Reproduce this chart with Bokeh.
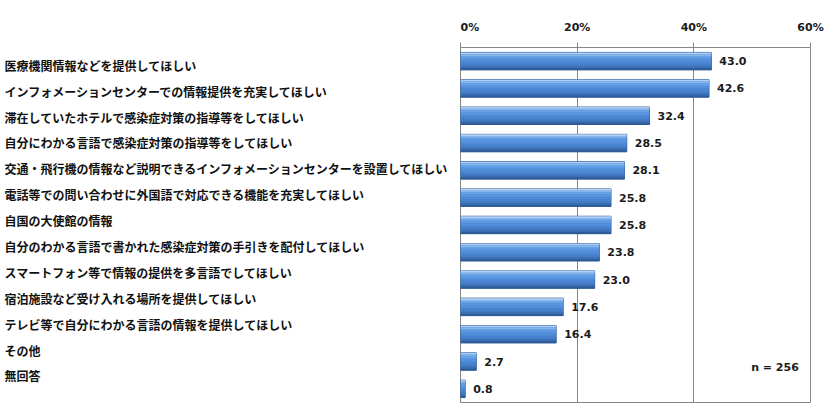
from bokeh.plotting import figure
from bokeh.layouts import row
from bokeh.models import ColumnDataSource, Range1d, FixedTicker, LabelSet, Label
from bokeh.transform import dodge
from bokeh.core.properties import value
from bokeh.embed import file_html
from bokeh.resources import INLINE

categories = [
    "医療機関情報などを提供してほしい",
    "インフォメーションセンターでの情報提供を充実してほしい",
    "滞在していたホテルで感染症対策の指導等をしてほしい",
    "自分にわかる言語で感染症対策の指導等をしてほしい",
    "交通・飛行機の情報など説明できるインフォメーションセンターを設置してほしい",
    "電話等での問い合わせに外国語で対応できる機能を充実してほしい",
    "自国の大使館の情報",
    "自分のわかる言語で書かれた感染症対策の手引きを配付してほしい",
    "スマートフォン等で情報の提供を多言語でしてほしい",
    "宿泊施設など受け入れる場所を提供してほしい",
    "テレビ等で自分にわかる言語の情報を提供してほしい",
    "その他",
    "無回答",
]
values = [43.0, 42.6, 32.4, 28.5, 28.1, 25.8, 25.8, 23.8, 23.0, 17.6, 16.4, 2.7, 0.8]
x_ticks = [0, 20, 40, 60]
tick_labels = ["0%", "20%", "40%", "60%"]
n_note = "n = 256"

n = len(categories)
ys = [n - 1 - i for i in range(n)]
label_ys = [n - 1 - (0.15 + 0.948 * i) for i in range(n)]

src = ColumnDataSource(dict(
    y=ys, val=values, txt=[f"{v:.1f}" for v in values],
))
lab_src = ColumnDataSource(dict(y=label_ys, cat=categories))

y_rng = Range1d(-0.5, n - 0.5)

# left panel: category labels
pl = figure(width=460, height=404, output_backend="svg", toolbar_location=None,
            x_range=Range1d(0, 460), y_range=y_rng,
            x_axis_location=None, y_axis_location=None,
            min_border_left=0, min_border_right=0, min_border_top=47,
            min_border_bottom=2)
pl.outline_line_color = None
pl.grid.visible = False
pl.text(x=4, y="y", text="cat", source=lab_src,
        text_baseline="middle", text_align="left",
        text_font=value("Noto Sans CJK JP"), text_font_style="bold",
        text_font_size="12px", text_color="#111111")

# right panel: bars
p = figure(width=364, height=404, output_backend="svg", toolbar_location=None,
           x_range=Range1d(0, 60), y_range=y_rng,
           x_axis_location="above", y_axis_location=None,
           min_border_left=0, min_border_right=14, min_border_top=47,
           min_border_bottom=2)

p.outline_line_color = "#868686"
p.outline_line_width = 1
p.background_fill_color = "white"
p.border_fill_color = "white"
p.ygrid.visible = False
p.xgrid.grid_line_color = "#868686"
p.xgrid.grid_line_width = 1

ax = p.xaxis[0]
ax.ticker = FixedTicker(ticks=x_ticks)
ax.major_label_overrides = {t: l for t, l in zip(x_ticks, tick_labels)}
ax.axis_line_color = None
ax.major_tick_line_color = "#868686"
ax.major_tick_out = 5
ax.major_tick_in = 0
ax.minor_tick_line_color = None
ax.major_label_text_font = "DejaVu Sans"
ax.major_label_text_font_style = "bold"
ax.major_label_text_font_size = "11px"
ax.major_label_text_color = "#1a1a1a"
ax.major_label_standoff = 9

# bars with a vertical shading (top light -> bottom dark)
bar_h = 0.64
shades = ["#b0d0f5", "#86b6ee", "#68a3e8", "#5c99e2", "#5591dd",
          "#4f8ad7", "#4983cf", "#437bc5", "#3a6db2", "#2e5a95"]
ns = len(shades)
sh = bar_h / ns
p.hbar(y="y", right="val", left=0, height=bar_h, source=src,
       fill_color="#4178c2", line_color="#2f5f9c", line_width=1)
for k, c in enumerate(shades):
    off = bar_h / 2 - sh * (k + 0.5)
    p.hbar(y=dodge("y", off, range=p.y_range), right="val", left=0,
           height=sh * 1.02, source=src, fill_color=c, line_color=None)

vals_lab = LabelSet(x="val", y="y", text="txt", source=src, x_offset=8,
                    text_baseline="middle", text_align="left",
                    text_font=value("DejaVu Sans"), text_font_style="bold",
                    text_font_size="11px", text_color="#1a1a1a")
p.add_layout(vals_lab)

p.add_layout(Label(x=58, y=n - 1 - 11.2, text=n_note, text_align="right",
                   text_baseline="middle", text_font="DejaVu Sans",
                   text_font_style="bold", text_font_size="11px",
                   text_color="#1a1a1a"))

layout = row(pl, p, spacing=0)
open("out.html", "w").write(file_html(layout, INLINE))
